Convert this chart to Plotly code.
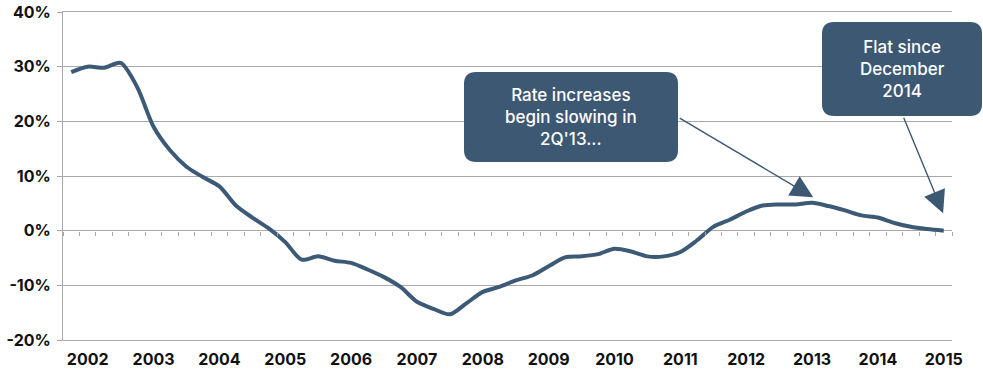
import plotly.graph_objects as go

# ---- data (quarterly, year-over-year %) ----
values = [29.0, 30.0, 29.8, 30.7, 26.3, 19.0, 14.7, 11.7, 9.8, 8.1,
          4.6, 2.4, 0.4, -2.1, -5.3, -4.7, -5.5, -5.9, -7.1, -8.5,
          -10.3, -13.0, -14.3, -15.3, -13.3, -11.2, -10.3, -9.1, -8.2, -6.5,
          -4.9, -4.7, -4.3, -3.3, -3.8, -4.7, -4.7, -3.9, -1.8, 0.7,
          2.0, 3.5, 4.6, 4.8, 4.8, 5.1, 4.5, 3.7, 2.8, 2.4,
          1.4, 0.7, 0.3, 0.0]
year_labels = ["2002", "2003", "2004", "2005", "2006", "2007", "2008",
               "2009", "2010", "2011", "2012", "2013", "2014", "2015"]
year_label_idx = [1 + 4 * k for k in range(len(year_labels))]
y_ticks = [-20, -10, 0, 10, 20, 30, 40]
y_ticktext = ["-20%", "-10%", "0%", "10%", "20%", "30%", "40%"]
idx = list(range(len(values)))

callout1_text = "Rate increases<br>begin slowing in<br>2Q'13..."
callout2_text = "Flat since<br>December<br>2014"

NAVY = "#3c5a76"
BOX = "#3d5873"
GRID = "#a9a9a9"

W, H = 983, 371
ML, MR, MT, MB = 63, 31, 12, 31
PW, PH = W - ML - MR, H - MT - MB


def px2paper(px, py):
    return (px - ML) / PW, (H - MB - py) / PH


def rounded_rect(x0, y0, x1, y1, r):
    def P(x, y):
        a, b = px2paper(x, y)
        return f"{a:.5f},{b:.5f}"
    return (f"M {P(x0 + r, y0)} L {P(x1 - r, y0)} Q {P(x1, y0)} {P(x1, y0 + r)} "
            f"L {P(x1, y1 - r)} Q {P(x1, y1)} {P(x1 - r, y1)} "
            f"L {P(x0 + r, y1)} Q {P(x0, y1)} {P(x0, y1 - r)} "
            f"L {P(x0, y0 + r)} Q {P(x0, y0)} {P(x0 + r, y0)} Z")


fig = go.Figure()
fig.add_trace(go.Scatter(
    x=idx, y=values, mode="lines",
    line=dict(color=NAVY, width=4, shape="spline", smoothing=0.8),
    hoverinfo="skip", showlegend=False,
))
fig.add_trace(go.Scatter(x=[idx[0]], y=[values[0]], xaxis="x2", mode="markers",
                         marker=dict(opacity=0), showlegend=False, hoverinfo="skip"))

tickfont = dict(family="Inter, Lato, sans-serif", size=16, color="#111111", weight=700)

fig.update_layout(
    width=W, height=H,
    margin=dict(l=ML, r=MR, t=MT, b=MB, autoexpand=False),
    paper_bgcolor="white", plot_bgcolor="white",
    xaxis=dict(
        range=[-0.5, len(values) - 0.5], automargin=False,
        tickvals=year_label_idx, ticktext=year_labels,
        showgrid=False, zeroline=False,
        showline=True, mirror=True, linecolor=GRID, linewidth=1,
        ticks="", tickfont=tickfont, ticklabelstandoff=5,
    ),
    xaxis2=dict(
        overlaying="x", anchor="free", position=1 / 3, side="bottom",
        range=[-0.5, len(values) - 0.5], automargin=False,
        tickvals=[k - 0.5 for k in range(len(values) + 1)],
        ticks="outside", ticklen=4, tickcolor=GRID, tickwidth=1,
        showticklabels=False, showgrid=False, zeroline=False, showline=False,
    ),
    yaxis=dict(
        range=[-20, 40], tickvals=y_ticks, ticktext=y_ticktext, automargin=False,
        showgrid=True, gridcolor=GRID, gridwidth=1,
        zeroline=False, showline=True, linecolor=GRID, linewidth=1,
        ticks="outside", ticklen=5, tickcolor=GRID,
        tickfont=tickfont, ticklabelstandoff=3,
    ),
    shapes=[
        dict(type="path", xref="paper", yref="paper",
             path=rounded_rect(464, 72, 678, 162, 12),
             fillcolor=BOX, line=dict(width=0), layer="above"),
        dict(type="path", xref="paper", yref="paper",
             path=rounded_rect(822, 22, 982, 116, 12),
             fillcolor=BOX, line=dict(width=0), layer="above"),
    ],
)

cfont = dict(family="Inter, Lato, sans-serif", size=17, color="white", weight=500)
bx1, by1 = px2paper(571, 117)
bx2, by2 = px2paper(902, 69)
fig.add_annotation(x=bx1, y=by1, xref="paper", yref="paper", text=callout1_text,
                   xanchor="center", yanchor="middle",
                   showarrow=False, font=cfont, align="center")
fig.add_annotation(x=bx2, y=by2, xref="paper", yref="paper", text=callout2_text,
                   xanchor="center", yanchor="middle",
                   showarrow=False, font=cfont, align="center")

# arrows
fig.add_annotation(x=45.07, y=6.1, xref="x", yref="y", ax=-135, ay=-80,
                   text="", showarrow=True, arrowhead=2, arrowsize=3.2,
                   arrowwidth=1.4, arrowcolor=BOX)
fig.add_annotation(x=52.96, y=3.2, xref="x", yref="y", ax=-40, ay=-97,
                   text="", showarrow=True, arrowhead=2, arrowsize=3.2,
                   arrowwidth=1.4, arrowcolor=BOX)

fig.write_html("out.html")
